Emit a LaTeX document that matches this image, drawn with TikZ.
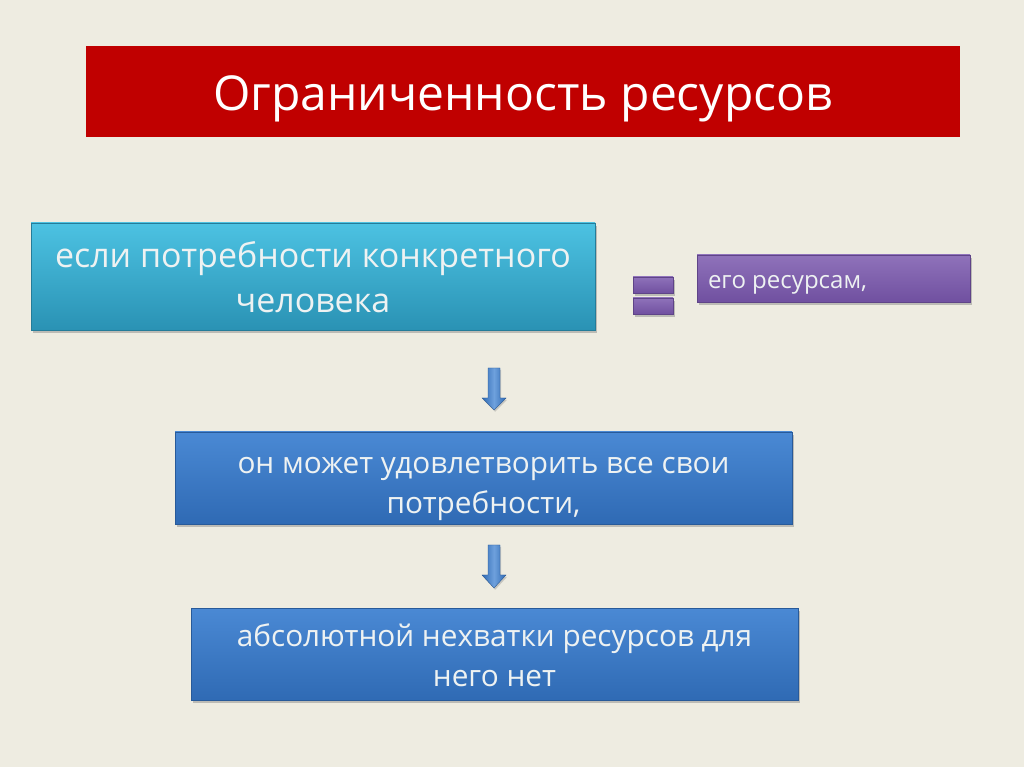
\documentclass[tikz,border=0pt]{standalone}
\usepackage{fontspec}
\setmainfont{Open Sans}
\usetikzlibrary{shadows}
\definecolor{slidebg}{HTML}{EEECE1}
\definecolor{titlered}{HTML}{C00000}
\definecolor{cyantop}{HTML}{4CC2E2}
\definecolor{cyanbot}{HTML}{2A92B4}
\definecolor{violettop}{HTML}{8F72BA}
\definecolor{violetbot}{HTML}{7050A0}
\definecolor{bluetop}{HTML}{4A89D4}
\definecolor{bluebot}{HTML}{2F6AB4}
\definecolor{paletext}{HTML}{EEF2F2}
\def\u{0.03cm}
\tikzset{
  box/.style={rectangle, inner sep=0pt,
    drop shadow={shadow xshift=2pt, shadow yshift=-2.5pt, opacity=0.45}},
  cyanbox/.style={box, top color=cyantop, bottom color=cyanbot, draw=cyanbot!85!black},
  bluebox/.style={box, top color=bluetop, bottom color=bluebot, draw=bluebot!85!black},
  violetbox/.style={box, top color=violettop, bottom color=violetbot, draw=violetbot!85!black},
  boxtext/.style={inner sep=0pt, align=center, text=paletext},
  downarrow/.style={shading=axis, left color=bluebot, right color=bluebot, middle color=bluetop!80!white,
    draw=bluebot!80!black, line width=0.3pt, drop shadow={shadow xshift=1pt, shadow yshift=-1.5pt, opacity=0.35}}
}
\begin{document}
\begin{tikzpicture}[x=\u, y=-\u]
    %% slide
    \fill[slidebg] (0,0) rectangle (1024,767);
    %% title
    \node[fill=titlered, minimum width=874*\u, minimum height=91*\u, inner sep=0pt] (title) at (523,91.5) {};
    \node[boxtext, text=white, font=\fontsize{41}{48}\selectfont] (titletext)
      at ([yshift=-7*\u]title.center) {Ограниченность ресурсов};
    %% boxes
    \node[cyanbox, minimum width=564*\u, minimum height=107*\u] (need) at (313,276.5) {};
    \node[boxtext, font=\fontsize{29}{38.4}\selectfont] (needtext)
      at ([yshift=-1*\u]need.center) {если потребности конкретного\\человека};
    \node[violetbox, minimum width=273*\u, minimum height=47*\u] (res) at (833.5,278.5) {};
    \node[boxtext, anchor=west, font=\fontsize{20.5}{24}\selectfont] (restext)
      at ([xshift=11*\u, yshift=-6*\u]res.west) {его ресурсам,};
    \node[bluebox, minimum width=617*\u, minimum height=92*\u] (can) at (483.5,478) {};
    \node[boxtext, font=\fontsize{25.4}{34}\selectfont] (cantext)
      at ([yshift=-11*\u]can.center) {он может удовлетворить все свои\\потребности,};
    \node[bluebox, minimum width=607*\u, minimum height=92*\u] (lack) at (494.5,654.5) {};
    \node[boxtext, font=\fontsize{25.4}{34}\selectfont] (lacktext)
      at ([yshift=-1*\u]lack.center) {абсолютной нехватки ресурсов для\\него нет};
    %% equals sign
    \node[violetbox, minimum width=40*\u, minimum height=16*\u] (eqa) at (653,285) {};
    \node[violetbox, minimum width=40*\u, minimum height=16*\u] (eqb) at (653,306) {};
    %% arrows
    \coordinate (arra) at (494,368);
    \coordinate (arrb) at (494,545);
    \path[downarrow] (arra) ++(-6,0) -- ++(12,0) -- ++(0,30) -- ++(6,0) -- ++(-12,12)
      -- ++(-12,-12) -- ++(6,0) -- cycle;
    \path[downarrow] (arrb) ++(-6,0) -- ++(12,0) -- ++(0,30) -- ++(6,0) -- ++(-12,13)
      -- ++(-12,-13) -- ++(6,0) -- cycle;
\end{tikzpicture}
\end{document}
